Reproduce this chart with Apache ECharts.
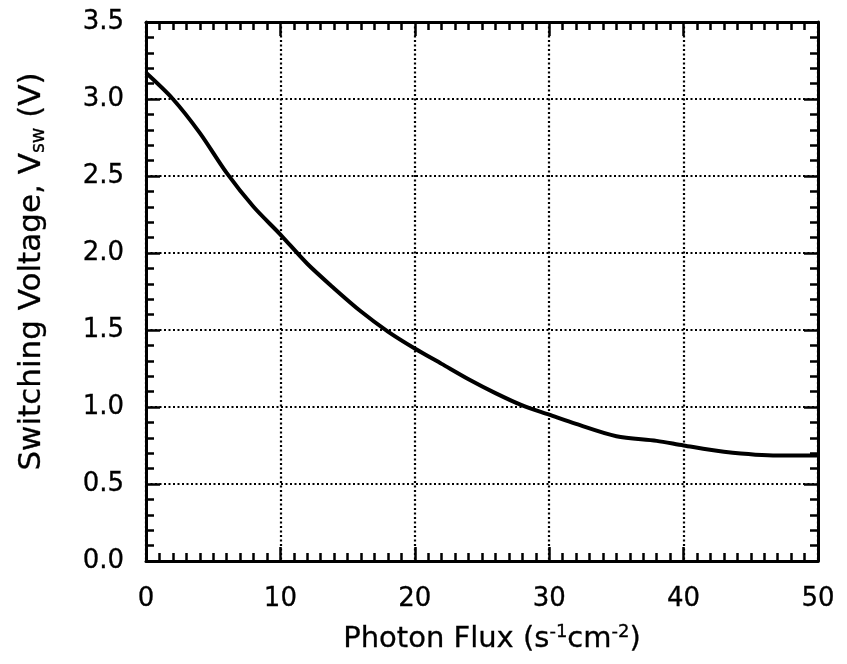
<!DOCTYPE html>
<html><head><meta charset="utf-8">
<script src="https://cdn.jsdelivr.net/npm/echarts@6/dist/echarts.min.js"></script>
<style>html,body{margin:0;padding:0;background:#fff}#c{width:847px;height:664px}</style>
</head><body><div id="c"></div>
<script>
const photonFlux = [0, 2, 4, 6, 8, 10, 12, 14, 16, 18, 20, 22, 24, 26, 28, 30, 32, 35, 38, 40, 43, 47, 50];
const switchingVoltage = [3.17, 3.0, 2.78, 2.52, 2.3, 2.12, 1.93, 1.77, 1.62, 1.49, 1.38, 1.28, 1.18, 1.09, 1.01, 0.95, 0.89, 0.81, 0.78, 0.75, 0.71, 0.685, 0.685];
const xTicks = [0, 10, 20, 30, 40, 50];
const yTicks = [0.0, 0.5, 1.0, 1.5, 2.0, 2.5, 3.0, 3.5];

const font = '"DejaVu Sans", sans-serif';
const black = '#000';
const txt = { color: black, fontFamily: font, textBorderColor: black, textBorderWidth: 0.3 };
const axisBase = {
  axisLine: { show: true, onZero: false, lineStyle: { color: black, width: 3 } },
  axisTick: { show: true, inside: true, length: 14, lineStyle: { color: black, width: 2.5 } },
  minorTick: { show: true, length: 8, lineStyle: { color: black, width: 2.5 } },
};
const chart = echarts.init(document.getElementById('c'), null, { renderer: 'canvas' });
chart.setOption({
  animation: false,
  backgroundColor: '#fff',
  grid: { left: 146, right: 29, top: 22, bottom: 103 },
  xAxis: [
    Object.assign({}, axisBase, {
      type: 'value', min: xTicks[0], max: xTicks[xTicks.length - 1], interval: 10,
      minorTick: Object.assign({}, axisBase.minorTick, { splitNumber: 10 }),
      axisLabel: Object.assign({ fontSize: 26, margin: 25, formatter: v => String(v) }, txt),
      splitLine: { show: true, lineStyle: { color: black, width: 2.2, type: [2, 2.5] } },
      name: '{t|Photon Flux (s}{sup|-1}{t|cm}{sup|-2}{t|)}',
      nameLocation: 'middle', nameGap: 62,
      nameTextStyle: {
        padding: [0, 0, 0, 20],
        rich: {
          t: Object.assign({ fontSize: 29 }, txt),
          sup: Object.assign({ fontSize: 18, padding: [0, 0, 14, 0] }, txt)
        }
      }
    }),
    Object.assign({}, axisBase, {
      type: 'value', position: 'top', min: 0, max: 50, interval: 10,
      minorTick: Object.assign({}, axisBase.minorTick, { splitNumber: 10 }),
      axisLabel: { show: false }, splitLine: { show: false }
    })
  ],
  yAxis: [
    Object.assign({}, axisBase, {
      type: 'value', min: yTicks[0], max: yTicks[yTicks.length - 1], interval: 0.5,
      minorTick: Object.assign({}, axisBase.minorTick, { splitNumber: 5 }),
      axisLabel: Object.assign({ fontSize: 26, margin: 22, formatter: v => v.toFixed(1) }, txt),
      splitLine: { show: true, lineStyle: { color: black, width: 2.2, type: [2, 2.5] } },
      name: '{t|Switching Voltage, V}{sub|sw}{t| (V)}',
      nameLocation: 'middle', nameGap: 97,
      nameTextStyle: {
        padding: [0, 0, 0, 40],
        rich: {
          t: Object.assign({ fontSize: 31 }, txt),
          sub: Object.assign({ fontSize: 19, padding: [15, 0, 0, 0] }, txt)
        }
      }
    }),
    Object.assign({}, axisBase, {
      type: 'value', position: 'right', min: 0, max: 3.5, interval: 0.5,
      minorTick: Object.assign({}, axisBase.minorTick, { splitNumber: 5 }),
      axisLabel: { show: false }, splitLine: { show: false }
    })
  ],
  series: [{
    type: 'line',
    data: photonFlux.map((x, i) => [x, switchingVoltage[i]]),
    smooth: 0.3,
    showSymbol: false,
    lineStyle: { color: black, width: 4 },
    xAxisIndex: 0, yAxisIndex: 0
  }]
});
</script></body></html>
